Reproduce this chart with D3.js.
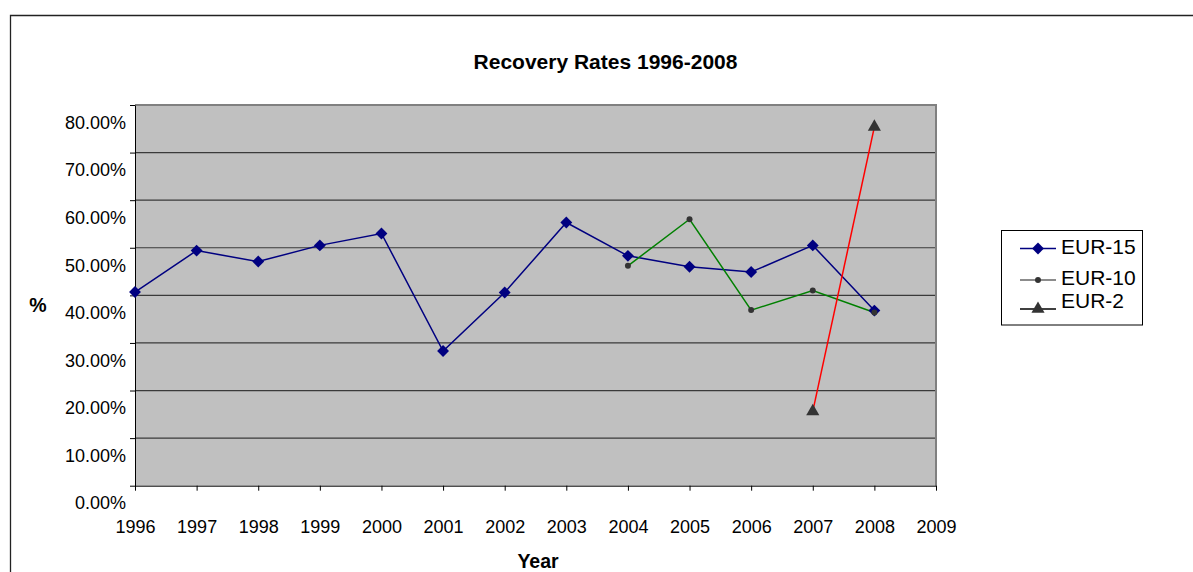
<!DOCTYPE html>
<html>
<head>
<meta charset="utf-8">
<script src="https://cdn.jsdelivr.net/npm/d3@7"></script>
<style>
  html, body { margin: 0; padding: 0; background: #fff; }
  svg { display: block; font-family: "Liberation Sans", Arial, sans-serif; }
</style>
</head>
<body>
<svg id="chart" width="1193" height="572"></svg>
<script>
// ---- data ----
const years = [1996, 1997, 1998, 1999, 2000, 2001, 2002, 2003, 2004, 2005, 2006, 2007, 2008];
const eur15 = [40.7, 49.4, 47.1, 50.5, 53.0, 28.3, 40.6, 55.3, 48.3, 46.0, 44.9, 50.5, 36.8];
const eur10Years = [2004, 2005, 2006, 2007, 2008];
const eur10 = [46.2, 56.0, 36.9, 41.0, 36.4];
const eur2Years = [2007, 2008];
const eur2 = [15.6, 75.4];
const xTicks = [1996, 1997, 1998, 1999, 2000, 2001, 2002, 2003, 2004, 2005, 2006, 2007, 2008, 2009];
const yTicks = [0, 10, 20, 30, 40, 50, 60, 70, 80];
const seriesNames = ["EUR-15", "EUR-10", "EUR-2"];

const svg = d3.select("#chart");
const plot = { left: 135, right: 936, top: 105, bottom: 485.7 };

const x = d3.scaleLinear().domain([1996, 2009]).range([plot.left, plot.right]);
const y = d3.scaleLinear().domain([0, 80]).range([plot.bottom, plot.top]);

// outer frame (cut off at right / bottom)
svg.append("path")
  .attr("d", `M10.5,600 L10.5,15.5 L1200,15.5`)
  .attr("fill", "none").attr("stroke", "#222").attr("stroke-width", 1.3);

// title
svg.append("text")
  .attr("x", 605.5).attr("y", 69)
  .attr("text-anchor", "middle")
  .attr("font-size", 21).attr("font-weight", "bold")
  .text("Recovery Rates 1996-2008");

// plot background
svg.append("rect")
  .attr("x", plot.left).attr("y", plot.top)
  .attr("width", plot.right - plot.left).attr("height", plot.bottom - plot.top)
  .attr("fill", "#c0c0c0");

// gridlines
svg.append("g").selectAll("line")
  .data(yTicks.filter(d => d > 0 && d < 80))
  .join("line")
  .attr("x1", plot.left).attr("x2", plot.right)
  .attr("y1", d => y(d)).attr("y2", d => y(d))
  .attr("stroke", "#3a3a3a").attr("stroke-width", 1.2);

// top & right border of plot
svg.append("path")
  .attr("d", `M${plot.left},${plot.top} L${plot.right},${plot.top} L${plot.right},${plot.bottom}`)
  .attr("fill", "none").attr("stroke", "#808080").attr("stroke-width", 2);

// y axis
const yAxis = svg.append("g")
  .attr("transform", `translate(${plot.left},0)`)
  .call(d3.axisLeft(y).tickValues(yTicks).tickSize(5).tickSizeOuter(0)
        .tickFormat(d => d.toFixed(2) + "%"));
yAxis.select(".domain").attr("stroke", "#000");
yAxis.selectAll(".tick line").attr("stroke", "#000");
yAxis.selectAll(".tick text")
  .attr("x", -9).attr("y", 17.5)
  .attr("font-size", 18).attr("fill", "#000")
  .attr("font-family", "Liberation Sans, Arial, sans-serif");

// x axis
const xAxis = svg.append("g")
  .attr("transform", `translate(0,${plot.bottom})`)
  .call(d3.axisBottom(x).tickValues(xTicks).tickSize(5).tickSizeOuter(0)
        .tickFormat(d3.format("d")));
xAxis.select(".domain").attr("stroke", "#000");
xAxis.selectAll(".tick line").attr("stroke", "#000");
xAxis.selectAll(".tick text")
  .attr("y", 47).attr("dy", 0)
  .attr("font-size", 18).attr("fill", "#000")
  .attr("font-family", "Liberation Sans, Arial, sans-serif");

// axis titles
svg.append("text")
  .attr("x", 38).attr("y", 312)
  .attr("text-anchor", "middle")
  .attr("font-size", 19.5).attr("font-weight", "bold")
  .text("%");
svg.append("text")
  .attr("x", 538).attr("y", 568)
  .attr("text-anchor", "middle")
  .attr("font-size", 19.5).attr("font-weight", "bold")
  .text("Year");

// series
const line = d3.line().x(d => x(d[0])).y(d => y(d[1]));
const s15 = years.map((yr, i) => [yr, eur15[i]]);
const s10 = eur10Years.map((yr, i) => [yr, eur10[i]]);
const s2 = eur2Years.map((yr, i) => [yr, eur2[i]]);

svg.append("path").datum(s15).attr("d", line)
  .attr("fill", "none").attr("stroke", "#000080").attr("stroke-width", 1.5);
svg.append("path").datum(s10).attr("d", line)
  .attr("fill", "none").attr("stroke", "#008000").attr("stroke-width", 1.5);
svg.append("path").datum(s2).attr("d", line)
  .attr("fill", "none").attr("stroke", "#ff0000").attr("stroke-width", 1.5);

const diamond = d3.symbol().type(d3.symbolDiamond2).size(90);
const circle = d3.symbol().type(d3.symbolCircle).size(28);
const tri = d3.symbol().type(d3.symbolTriangle).size(75);

svg.append("g").selectAll("path").data(s15).join("path")
  .attr("d", diamond)
  .attr("transform", d => `translate(${x(d[0])},${y(d[1])})`)
  .attr("fill", "#000080");
svg.append("g").selectAll("path").data(s10).join("path")
  .attr("d", circle)
  .attr("transform", d => `translate(${x(d[0])},${y(d[1])})`)
  .attr("fill", "#333");
svg.append("g").selectAll("path").data(s2).join("path")
  .attr("d", tri)
  .attr("transform", d => `translate(${x(d[0])},${y(d[1])})`)
  .attr("fill", "#333");

// legend
const lg = svg.append("g");
lg.append("rect")
  .attr("x", 1001.5).attr("y", 230.5).attr("width", 141).attr("height", 94.5)
  .attr("fill", "#fff").attr("stroke", "#000").attr("stroke-width", 1);

const legendItems = [
  { name: seriesNames[0], lineY: 248.5, textY: 254, stroke: "#000080", sym: diamond, fill: "#000080" },
  { name: seriesNames[1], lineY: 280, textY: 285, stroke: "#666", sym: circle, fill: "#333" },
  { name: seriesNames[2], lineY: 309, textY: 308, stroke: "#000", sym: tri, fill: "#333" }
];
legendItems.forEach(it => {
  lg.append("line")
    .attr("x1", 1020).attr("x2", 1056).attr("y1", it.lineY).attr("y2", it.lineY)
    .attr("stroke", it.stroke).attr("stroke-width", 1.3);
  lg.append("path").attr("d", it.sym)
    .attr("transform", `translate(1038,${it.lineY})`)
    .attr("fill", it.fill);
  lg.append("text")
    .attr("x", 1061).attr("y", it.textY)
    .attr("font-size", 21)
    .text(it.name);
});
</script>
</body>
</html>
